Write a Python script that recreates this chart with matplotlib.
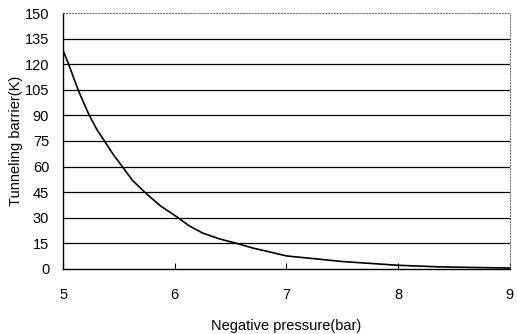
import matplotlib.pyplot as plt

# values
pressure = [5.0, 5.05, 5.1, 5.135, 5.18, 5.235, 5.3, 5.37, 5.45, 5.53, 5.62, 5.73,
            5.87, 6.03, 6.13, 6.25, 6.4, 6.55, 6.7, 6.84, 7.0, 7.15, 7.29, 7.5,
            7.73, 8.0, 8.36, 8.7, 9.0]
barrier = [128, 120, 111, 105, 98, 90, 82, 75, 67, 60, 52, 45,
           37, 30, 25.2, 21, 17.6, 15, 12.2, 10.1, 7.6, 6.6, 5.7, 4.3,
           3.3, 2.1, 1.2, 0.8, 0.5]
yticks = list(range(0, 151, 15))
xticks = [5, 6, 7, 8, 9]

plt.rcParams['font.family'] = ['Liberation Sans', 'DejaVu Sans']

fig = plt.figure(figsize=(5.17, 3.34), dpi=100)
ax = fig.add_axes([0.122, 0.195, 0.864, 0.766])

for yv in yticks[1:-1]:
    ax.axhline(yv, color='black', lw=0.9, zorder=1)

ax.plot(pressure, barrier, color='black', lw=1.2, zorder=2)

ax.set_xlim(5, 9)
ax.set_ylim(0, 150)
ax.set_xticks(xticks)
ax.set_yticks(yticks)
ax.tick_params(axis='x', direction='in', length=4, pad=14, labelsize=10.5)
ax.tick_params(axis='y', length=0, pad=10, labelsize=10.5)

ax.spines['top'].set_linestyle(':')
ax.spines['top'].set_color('#777777')
ax.spines['right'].set_linestyle(':')
ax.spines['right'].set_color('#777777')
ax.spines['left'].set_linewidth(1.0)
ax.spines['bottom'].set_linewidth(1.0)

ax.set_xlabel('Negative pressure(bar)', fontsize=10.5, labelpad=12)
ax.set_ylabel('Tunneling barrier(K)', fontsize=10.5, labelpad=1)

fig.savefig('out.png', dpi=100)
